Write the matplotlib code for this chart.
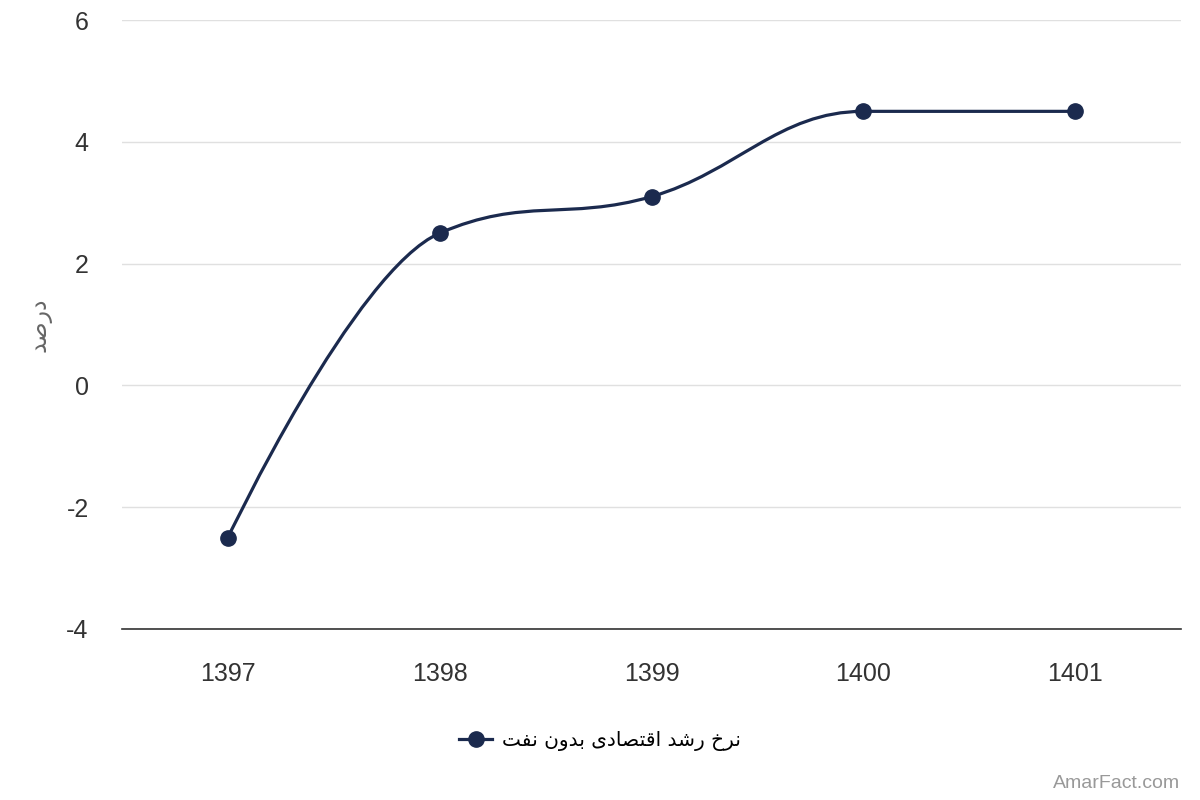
import matplotlib
matplotlib.use("Agg")
import matplotlib.pyplot as plt
from matplotlib.path import Path
from matplotlib.patches import PathPatch
from matplotlib.lines import Line2D
import numpy as np

# ---- data ----
categories = ["1397", "1398", "1399", "1400", "1401"]
values = [-2.5, 2.5, 3.1, 4.5, 4.5]
y_ticks = [-4, -2, 0, 2, 4, 6]

# Persian labels, pre-shaped (Arabic presentation forms), logical order
series_name_shaped = ("\uFEE7\uFEAE\uFEA5 "            # نرخ
                      "\uFEAD\uFEB7\uFEAA "            # رشد
                      "\uFE8D\uFED7\uFE98\uFEBC\uFE8E\uFEA9\uFEEF "  # اقتصادی
                      "\uFE91\uFEAA\uFEED\uFEE5 "      # بدون
                      "\uFEE7\uFED4\uFE96")            # نفت
y_title_shaped = "\uFEA9\uFEAD\uFEBB\uFEAA"            # درصد

def visual(s):
    return s[::-1]

LINE_COLOR = "#1b2a4e"
FONT = ["Liberation Sans", "DejaVu Sans"]
plt.rcParams["font.family"] = FONT

fig = plt.figure(figsize=(12, 8), dpi=100)
ax = fig.add_axes([122/1200, 1 - 629/800, (1181-122)/1200, (629-20)/800])

x = np.arange(len(values), dtype=float)
y = np.array(values, dtype=float)

# Highcharts-like spline (smoothing 1.5), computed in display-proportional coords
xlim = (-0.5, len(values) - 0.5)
ylim = (-4, 6)
ax.set_xlim(*xlim)
ax.set_ylim(*ylim)
W, H = 1059.0, 609.0
px = (x - xlim[0]) / (xlim[1] - xlim[0]) * W
py = (y - ylim[0]) / (ylim[1] - ylim[0]) * H

def controls(i):
    sm = 1.5
    den = sm + 1
    lx, ly = px[i-1], py[i-1]
    nx, ny = px[i+1], py[i+1]
    cx, cy = px[i], py[i]
    lcx = (sm * cx + lx) / den
    lcy = (sm * cy + ly) / den
    rcx = (sm * cx + nx) / den
    rcy = (sm * cy + ny) / den
    if rcx != lcx:
        corr = ((rcy - lcy) * (rcx - cx)) / (rcx - lcx) + cy - rcy
        lcy += corr
        rcy += corr
    if lcy > ly and lcy > cy:
        lcy = max(ly, cy); rcy = 2 * cy - lcy
    elif lcy < ly and lcy < cy:
        lcy = min(ly, cy); rcy = 2 * cy - lcy
    if rcy > ny and rcy > cy:
        rcy = max(ny, cy); lcy = 2 * cy - rcy
    elif rcy < ny and rcy < cy:
        rcy = min(ny, cy); lcy = 2 * cy - rcy
    return (lcx, lcy), (rcx, rcy)

n = len(values)
ctrl = {}
for i in range(1, n - 1):
    ctrl[i] = controls(i)

verts = [(px[0], py[0])]
codes = [Path.MOVETO]
for i in range(1, n):
    c1 = ctrl[i-1][1] if (i-1) in ctrl else (px[i-1], py[i-1])
    c2 = ctrl[i][0] if i in ctrl else (px[i], py[i])
    verts += [c1, c2, (px[i], py[i])]
    codes += [Path.CURVE4] * 3

def to_data(v):
    vx, vy = v
    return (xlim[0] + vx / W * (xlim[1] - xlim[0]), ylim[0] + vy / H * (ylim[1] - ylim[0]))

verts_d = [to_data(v) for v in verts]
patch = PathPatch(Path(verts_d, codes), facecolor="none", edgecolor=LINE_COLOR,
                  lw=2.3, zorder=3, capstyle="round", joinstyle="round")
ax.add_patch(patch)
ax.plot(x, y, linestyle="none", marker="o", ms=11, color=LINE_COLOR, zorder=4)

# axes styling
ax.set_yticks(y_ticks)
ax.set_yticklabels([str(t) for t in y_ticks])
ax.set_xticks(x)
ax.set_xticklabels(categories)
ax.grid(axis="y", color="#e0e0e0", lw=1)
ax.set_axisbelow(True)
for s in ["top", "right", "left"]:
    ax.spines[s].set_visible(False)
ax.spines["bottom"].set_color("#333333")
ax.spines["bottom"].set_linewidth(1.2)
ax.tick_params(axis="both", length=0, labelsize=18, colors="#333333")
ax.tick_params(axis="x", pad=24)
ax.tick_params(axis="y", pad=24)
ax.set_ylabel(visual(y_title_shaped), fontsize=17, color="#666666",
              family=["DejaVu Sans"], labelpad=11)

# legend
handle = Line2D([0], [0], color=LINE_COLOR, lw=2.3, marker="o", ms=11)
fig.legend([handle], [visual(series_name_shaped)], loc="center",
           bbox_to_anchor=(600/1200, 1 - 741/800), frameon=False,
           prop={"family": ["DejaVu Sans"], "size": 14.5}, handlelength=1.6,
           handletextpad=0.5)

fig.text(1180/1200, 1 - 784/800, "AmarFact.com", ha="right", va="center",
         fontsize=14, color="#999999")

fig.savefig("out.png", dpi=100, facecolor="white")
